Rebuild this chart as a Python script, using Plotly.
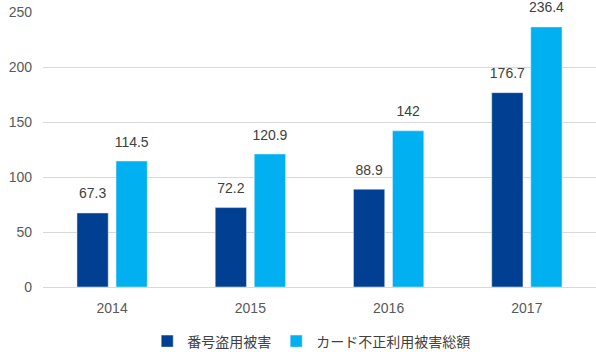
import plotly.graph_objects as go

years = ["2014", "2015", "2016", "2017"]
theft = [67.3, 72.2, 88.9, 176.7]
total = [114.5, 120.9, 142, 236.4]
names = ["番号盗用被害", "カード不正利用被害総額"]
colors = ["#003F91", "#00B0F0"]

font = "Liberation Sans, Noto Sans CJK JP, sans-serif"
fig = go.Figure()
for i, (vals, nm) in enumerate([(theft, names[0]), (total, names[1])]):
    fig.add_trace(go.Bar(x=years, y=vals, name=nm, marker_color=colors[i],
                         offsetgroup=str(i), alignmentgroup="a"))
for i, vals in enumerate([theft, total]):
    fig.add_trace(go.Scatter(x=years, y=vals, mode="markers+text", text=[str(v) for v in vals],
                             textposition="top center", marker=dict(size=16, opacity=0),
                             textfont=dict(size=14, color="#404040"), showlegend=False,
                             hoverinfo="skip", cliponaxis=False,
                             offsetgroup=str(i), alignmentgroup="a"))
fig.update_layout(
    width=596, height=352,
    margin=dict(l=43, r=0, t=12, b=65, autoexpand=False),
    paper_bgcolor="white", plot_bgcolor="white",
    font=dict(family=font, size=13, color="#595959"),
    barmode="group", bargap=0.435, bargroupgap=0.2,
    scattermode="group", scattergap=0.435,
    legend=dict(orientation="h", x=0.485, xanchor="center", y=-0.14, yanchor="top",
                font=dict(size=14, color="#404040"), itemwidth=30,
                tracegroupgap=0),
    xaxis=dict(showgrid=False, showline=False, ticks="outside", ticklen=8, tickcolor="rgba(0,0,0,0)",
               tickfont=dict(size=14, color="#595959")),
    yaxis=dict(range=[0, 250], dtick=50, showgrid=True, gridcolor="#D9D9D9",
               zeroline=True, zerolinecolor="#D9D9D9", zerolinewidth=1,
               tickfont=dict(size=14, color="#595959"), ticklabelstandoff=10),
)
fig.write_html("out.html")
